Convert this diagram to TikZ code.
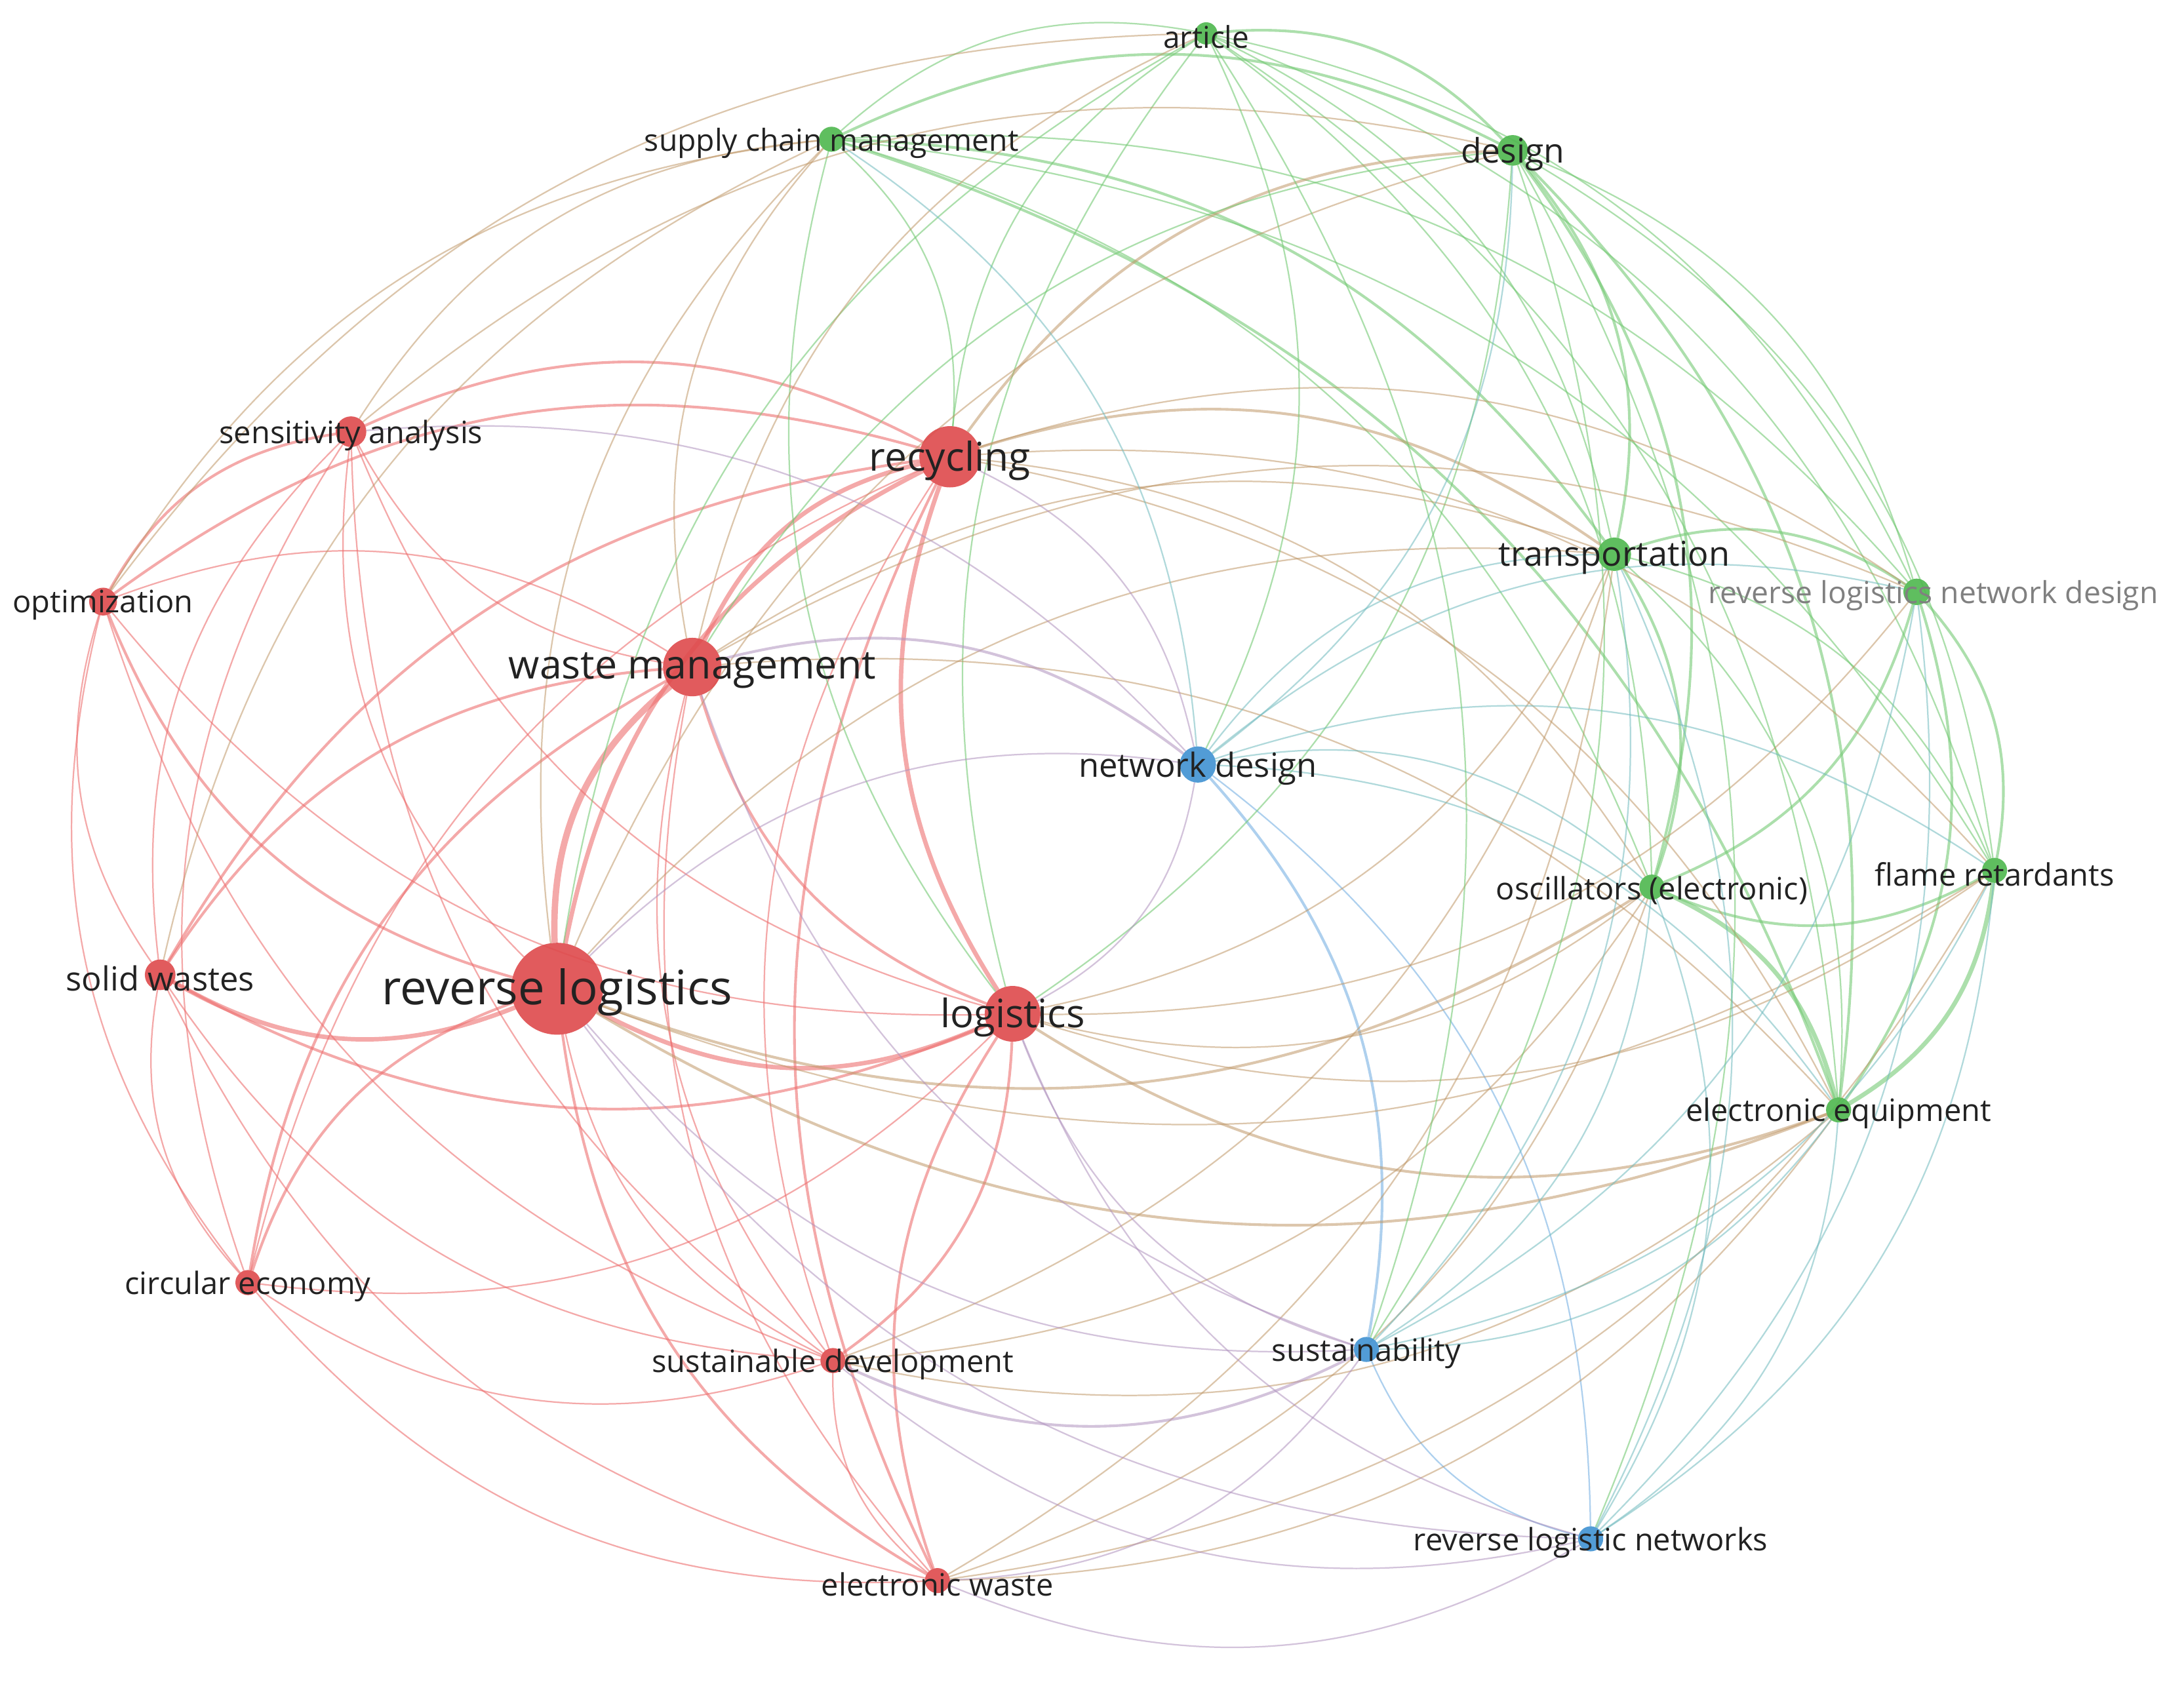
\documentclass[tikz,border=0pt]{standalone}
\usepackage{fontspec}
\setmainfont{Open Sans}
\usetikzlibrary{calc,backgrounds}
\pgfdeclarelayer{bottom}
\pgfsetlayers{bottom,background,main}
\definecolor{nred}{RGB}{222,74,76}
\definecolor{ngreen}{RGB}{78,184,78}
\definecolor{nblue}{RGB}{64,146,210}
\definecolor{ered}{RGB}{238,112,112}
\definecolor{egreen}{RGB}{118,202,118}
\definecolor{eblue}{RGB}{120,178,228}
\definecolor{erg}{RGB}{192,152,104}
\definecolor{erb}{RGB}{176,146,190}
\definecolor{egb}{RGB}{112,186,190}
\definecolor{lbltxt}{RGB}{34,34,34}
\newcommand\kfs[1]{\fontsize{#1}{#1}\selectfont}
\newcommand\bendang{26}
\newcommand\lnk[3]{%
 \draw[#1] let \p1=(#2), \p2=(#3), \p3=(ctr),
   \n1={((\x2-\x1)/100)*((0.5*(\y1+\y2)-\y3)/100)-((\y2-\y1)/100)*((0.5*(\x1+\x2)-\x3)/100)},
   \n2={(\n1>0) ? \bendang : -\bendang} in (#2) to[bend left=\n2] (#3);}
\tikzset{
 kw/.style={circle, inner sep=0pt, outer sep=0pt, fill opacity=0.9, minimum size=#1},
 kr/.style={kw=#1, fill=nred},
 kg/.style={kw=#1, fill=ngreen},
 kb/.style={kw=#1, fill=nblue},
 lbl/.style={inner sep=0pt, text=lbltxt, yshift=-1.5pt},
 er/.style={draw=ered, draw opacity=0.6},
 eg/.style={draw=egreen, draw opacity=0.6},
 eb/.style={draw=eblue, draw opacity=0.6},
 erg/.style={draw=erg, draw opacity=0.55},
 erb/.style={draw=erb, draw opacity=0.55},
 egb/.style={draw=egb, draw opacity=0.55},
 w1/.style={line width=0.6pt},
 w2/.style={line width=1.1pt},
 w3/.style={line width=1.8pt},
 w4/.style={line width=2.6pt},
}
\begin{document}
\begin{tikzpicture}[x=0.02cm,y=-0.02cm]
\begin{pgfonlayer}{bottom}
\fill[white] (0,0) rectangle (1568,1212);
\end{pgfonlayer}
\useasboundingbox (0,0) rectangle (1568,1212);
\coordinate (ctr) at (780,610);
% nodes
\node[kr=1.32cm] (rl) at (400,710) {};
\node[kr=0.84cm] (wm) at (497,479) {};
\node[kr=0.88cm] (rec) at (682,328) {};
\node[kr=0.80cm] (lg) at (727,728) {};
\node[kr=0.44cm] (sa) at (252,310) {};
\node[kr=0.40cm] (opt) at (74,432) {};
\node[kr=0.44cm] (sw) at (115,700) {};
\node[kr=0.36cm] (ce) at (178,921) {};
\node[kr=0.36cm] (sd) at (598,977) {};
\node[kr=0.36cm] (ew) at (673,1135) {};
\node[kg=0.32cm] (art) at (866,24) {};
\node[kg=0.36cm] (scm) at (597,100) {};
\node[kg=0.44cm] (des) at (1086,108) {};
\node[kg=0.48cm] (tr) at (1159,398) {};
\node[kg=0.38cm] (rlnd) at (1376,425) {};
\node[kg=0.36cm] (osc) at (1186,637) {};
\node[kg=0.36cm] (fr) at (1432,625) {};
\node[kg=0.36cm] (ee) at (1320,797) {};
\node[kb=0.52cm] (nd) at (860,549) {};
\node[kb=0.36cm] (sus) at (981,969) {};
\node[kb=0.36cm] (rln) at (1142,1105) {};
% labels
\node[lbl,font=\kfs{19.4}] (rl-l) at (rl) {reverse logistics};
\node[lbl,font=\kfs{16.3}] (wm-l) at (wm) {waste management};
\node[lbl,font=\kfs{16.2}] (rec-l) at (rec) {recycling};
\node[lbl,font=\kfs{16}] (lg-l) at (lg) {logistics};
\node[lbl,font=\kfs{12.6}] (sa-l) at (sa) {sensitivity analysis};
\node[lbl,font=\kfs{12.6}] (opt-l) at (opt) {optimization};
\node[lbl,font=\kfs{13.6}] (sw-l) at (sw) {solid wastes};
\node[lbl,font=\kfs{12.6}] (ce-l) at (ce) {circular economy};
\node[lbl,font=\kfs{12.6}] (sd-l) at (sd) {sustainable development};
\node[lbl,font=\kfs{12.6}] (ew-l) at (ew) {electronic waste};
\node[lbl,font=\kfs{12.3}] (art-l) at (art) {article};
\node[lbl,font=\kfs{12.4}] (scm-l) at (scm) {supply chain management};
\node[lbl,font=\kfs{13.8}] (des-l) at (des) {design};
\node[lbl,font=\kfs{14}] (tr-l) at (tr) {transportation};
\node[lbl,font=\kfs{12.4},text=gray] (rlnd-l) at ([xshift=0.24cm]rlnd) {reverse logistics network design};
\node[lbl,font=\kfs{12.6}] (osc-l) at (osc) {oscillators (electronic)};
\node[lbl,font=\kfs{12.6}] (fr-l) at (fr) {flame retardants};
\node[lbl,font=\kfs{12.6}] (ee-l) at (ee) {electronic equipment};
\node[lbl,font=\kfs{13.6}] (nd-l) at (nd) {network design};
\node[lbl,font=\kfs{12.6}] (sus-l) at (sus) {sustainability};
\node[lbl,font=\kfs{12.6}] (rln-l) at (rln) {reverse logistic networks};
\begin{scope}[on background layer]
% red-red
\lnk{er,w4}{rl}{wm}
\lnk{er,w3}{rl}{rec}
\lnk{er,w3}{rl}{lg}
\lnk{er,w3}{sw}{rl}
\lnk{er,w1}{rl}{sa}
\lnk{er,w2}{rl}{opt}
\lnk{er,w2}{rl}{ce}
\lnk{er,w1}{rl}{sd}
\lnk{er,w2}{rl}{ew}
\lnk{er,w3}{wm}{rec}
\lnk{er,w2}{wm}{lg}
\lnk{er,w2}{wm}{sw}
\lnk{er,w1}{wm}{sa}
\lnk{er,w1}{wm}{opt}
\lnk{er,w2}{wm}{ce}
\lnk{er,w1}{wm}{sd}
\lnk{er,w1}{wm}{ew}
\lnk{er,w3}{rec}{lg}
\lnk{er,w2}{rec}{sa}
\lnk{er,w2}{rec}{opt}
\lnk{er,w2}{rec}{sw}
\lnk{er,w1}{rec}{sd}
\lnk{er,w2}{rec}{ew}
\lnk{er,w1}{rec}{ce}
\lnk{er,w2}{lg}{sw}
\lnk{er,w1}{lg}{sa}
\lnk{er,w1}{lg}{opt}
\lnk{er,w2}{lg}{sd}
\lnk{er,w2}{lg}{ew}
\lnk{er,w1}{lg}{ce}
\lnk{er,w2}{sa}{opt}
\lnk{er,w1}{sa}{sw}
\lnk{er,w1}{sa}{ce}
\lnk{er,w1}{sa}{sd}
\lnk{er,w1}{opt}{sw}
\lnk{er,w1}{opt}{ce}
\lnk{er,w1}{opt}{sd}
\lnk{er,w1}{sw}{ce}
\lnk{er,w1}{sw}{sd}
\lnk{er,w1}{sw}{ew}
\lnk{er,w1}{ce}{ew}
\lnk{er,w1}{ce}{sd}
\lnk{er,w1}{sd}{ew}
% green-green
\lnk{eg,w1}{art}{scm}
\lnk{eg,w2}{art}{des}
\lnk{eg,w1}{art}{tr}
\lnk{eg,w1}{art}{rlnd}
\lnk{eg,w1}{art}{osc}
\lnk{eg,w1}{art}{fr}
\lnk{eg,w1}{art}{ee}
\lnk{eg,w2}{scm}{des}
\lnk{eg,w2}{scm}{tr}
\lnk{eg,w1}{scm}{rlnd}
\lnk{eg,w1}{scm}{osc}
\lnk{eg,w1}{scm}{fr}
\lnk{eg,w2}{scm}{ee}
\lnk{eg,w2}{des}{tr}
\lnk{eg,w1}{des}{rlnd}
\lnk{eg,w2}{des}{osc}
\lnk{eg,w1}{des}{fr}
\lnk{eg,w2}{des}{ee}
\lnk{eg,w2}{tr}{rlnd}
\lnk{eg,w2}{tr}{osc}
\lnk{eg,w1}{tr}{fr}
\lnk{eg,w1}{tr}{ee}
\lnk{eg,w2}{rlnd}{osc}
\lnk{eg,w2}{rlnd}{fr}
\lnk{eg,w2}{rlnd}{ee}
\lnk{eg,w2}{osc}{fr}
\lnk{eg,w3}{osc}{ee}
\lnk{eg,w3}{fr}{ee}
% blue-blue
\lnk{eb,w2}{nd}{sus}
\lnk{eb,w1}{nd}{rln}
\lnk{eb,w1}{sus}{rln}
% red-green
\lnk{erg,w1}{scm}{sa}
\lnk{erg,w1}{scm}{opt}
\lnk{erg,w1}{scm}{sw}
\lnk{eg,w1}{scm}{rec}
\lnk{erg,w1}{scm}{wm}
\lnk{erg,w1}{scm}{rl}
\lnk{eg,w1}{scm}{lg}
\lnk{erg,w1}{art}{opt}
\lnk{eg,w1}{art}{rec}
\lnk{eg,w1}{art}{rl}
\lnk{erg,w1}{art}{wm}
\lnk{eg,w1}{art}{lg}
\lnk{erg,w2}{des}{rec}
\lnk{eg,w1}{des}{wm}
\lnk{erg,w1}{des}{rl}
\lnk{eg,w1}{des}{lg}
\lnk{erg,w1}{des}{sa}
\lnk{erg,w2}{tr}{rec}
\lnk{erg,w1}{tr}{wm}
\lnk{erg,w1}{tr}{rl}
\lnk{erg,w1}{tr}{lg}
\lnk{erg,w1}{tr}{ew}
\lnk{erg,w1}{tr}{sd}
\lnk{erg,w1}{rlnd}{rec}
\lnk{erg,w1}{rlnd}{lg}
\lnk{erg,w1}{rlnd}{wm}
\lnk{erg,w1}{osc}{lg}
\lnk{erg,w2}{osc}{rl}
\lnk{erg,w1}{osc}{rec}
\lnk{erg,w1}{osc}{ew}
\lnk{erg,w1}{osc}{sd}
\lnk{erg,w1}{fr}{lg}
\lnk{erg,w1}{fr}{rl}
\lnk{erg,w1}{fr}{rec}
\lnk{erg,w1}{fr}{ew}
\lnk{erg,w2}{ee}{lg}
\lnk{erg,w2}{ee}{rl}
\lnk{erg,w1}{ee}{rec}
\lnk{erg,w1}{ee}{wm}
\lnk{erg,w1}{ee}{ew}
\lnk{erg,w1}{ee}{sd}
% red-blue
\lnk{erb,w1}{nd}{rec}
\lnk{erb,w2}{nd}{wm}
\lnk{erb,w1}{nd}{rl}
\lnk{erb,w1}{nd}{lg}
\lnk{erb,w1}{nd}{sa}
\lnk{erb,w1}{sus}{rl}
\lnk{erb,w2}{sus}{sd}
\lnk{erb,w1}{sus}{ew}
\lnk{erb,w1}{sus}{lg}
\lnk{erb,w1}{sus}{wm}
\lnk{erb,w1}{rln}{ew}
\lnk{erb,w1}{rln}{sd}
\lnk{erb,w1}{rln}{lg}
\lnk{erb,w1}{rln}{rl}
% green-blue
\lnk{egb,w1}{nd}{tr}
\lnk{egb,w1}{nd}{rlnd}
\lnk{egb,w1}{nd}{osc}
\lnk{egb,w1}{nd}{fr}
\lnk{egb,w1}{nd}{ee}
\lnk{egb,w1}{nd}{des}
\lnk{egb,w1}{nd}{scm}
\lnk{eg,w1}{art}{nd}
\lnk{eg,w1}{art}{sus}
\lnk{eg,w1}{des}{sus}
\lnk{eg,w1}{des}{rln}
\lnk{egb,w1}{sus}{tr}
\lnk{egb,w1}{sus}{rlnd}
\lnk{egb,w1}{sus}{osc}
\lnk{egb,w1}{sus}{fr}
\lnk{egb,w1}{sus}{ee}
\lnk{egb,w1}{rln}{osc}
\lnk{egb,w1}{rln}{fr}
\lnk{egb,w1}{rln}{ee}
\lnk{egb,w1}{rln}{rlnd}
\lnk{egb,w1}{rln}{tr}
\end{scope}
\end{tikzpicture}
\end{document}
